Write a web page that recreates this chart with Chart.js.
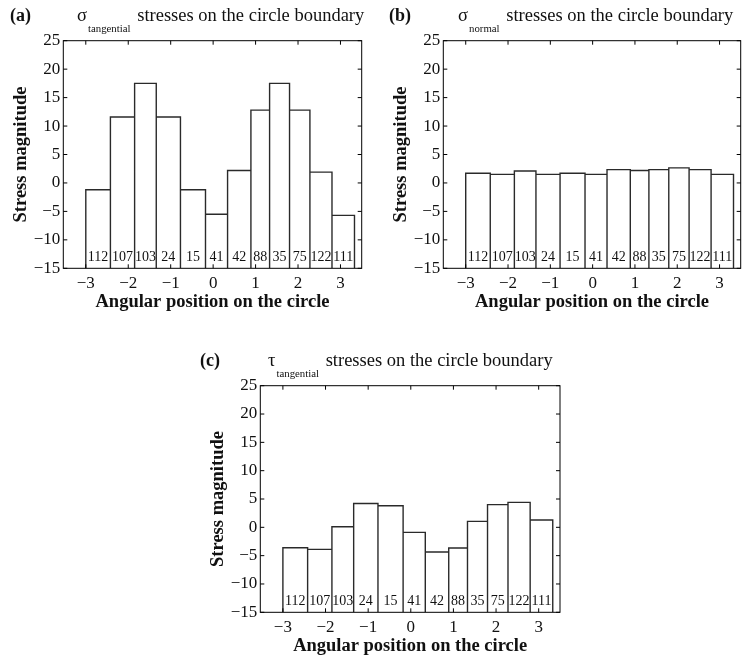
<!DOCTYPE html>
<html>
<head>
<meta charset="utf-8">
<script src="https://cdn.jsdelivr.net/npm/chart.js@4.4.1/dist/chart.umd.min.js"></script>
<style>
  html, body { margin: 0; padding: 0; background: #fff; }
  body { width: 743px; height: 659px; position: relative; overflow: hidden;
         font-family: "Liberation Serif", "Times New Roman", serif; color: #111; }
  canvas { position: absolute; }
  .tag { position: absolute; font-weight: bold; font-size: 18px; line-height: 18px; white-space: nowrap; }
  .ttl { position: absolute; font-size: 18.5px; line-height: 18px; white-space: nowrap; }
  .ttl sub { font-size: 10.8px; vertical-align: -11px; line-height: 0; margin-left: 1px; margin-right: 2px; }
</style>
</head>
<body>
<canvas id="panelA" width="372" height="320" style="left:0px;top:0px"></canvas>
<canvas id="panelB" width="363" height="320" style="left:380px;top:0px"></canvas>
<canvas id="panelC" width="370" height="319" style="left:197px;top:345px"></canvas>

<div class="tag" style="left:10px;top:6px">(a)</div>
<div class="ttl" style="left:77px;top:6px">σ<sub>tangential</sub> stresses on the circle boundary</div>
<div class="tag" style="left:389px;top:6px">(b)</div>
<div class="ttl" style="left:458px;top:6px">σ<sub>normal</sub> stresses on the circle boundary</div>
<div class="tag" style="left:200px;top:351px">(c)</div>
<div class="ttl" style="left:268px;top:351px">τ<sub>tangential</sub> stresses on the circle boundary</div>

<script>
// Bin edges along the boundary (angular position, radians)
const binEdges = [-3.0, -2.42, -1.85, -1.34, -0.77, -0.18, 0.34, 0.89, 1.33, 1.80, 2.28, 2.80, 3.33];
// Number of boundary elements in each bin
const binCounts = [112, 107, 103, 24, 15, 41, 42, 88, 35, 75, 122, 111];
// Mean stress per bin
const sigmaTangential = [-1.2, 11.6, 17.5, 11.6, -1.2, -5.5, 2.2, 12.8, 17.5, 12.8, 1.9, -5.7];
const sigmaNormal     = [1.7, 1.5, 2.1, 1.5, 1.7, 1.5, 2.35, 2.2, 2.35, 2.65, 2.35, 1.5];
const tauTangential   = [-3.6, -3.9, 0.1, 4.2, 3.8, -0.9, -4.35, -3.65, 1.05, 4.0, 4.4, 1.3];
// Axis tick values
const xTickValues = [-3, -2, -1, 0, 1, 2, 3];
const yTickValues = [-15, -10, -5, 0, 5, 10, 15, 20, 25];

const X_MIN = -3.53, X_MAX = 3.5;
const Y_MIN = -15, Y_MAX = 25;
const COUNT_Y = -13;
const SERIF = '"Liberation Serif", "Times New Roman", serif';
const INK = '#111';

const fmt = v => (v < 0 ? '\u2212' + Math.abs(v) : String(v));

// Box around the plot area with inward tick marks on all four sides
const framePlugin = {
  id: 'frame',
  afterDraw(chart) {
    const { ctx, chartArea: a, scales: { x, y } } = chart;
    const TL = 4;
    ctx.save();
    ctx.strokeStyle = '#000';
    ctx.lineWidth = 1;
    ctx.strokeRect(a.left, a.top, a.right - a.left, a.bottom - a.top);
    ctx.beginPath();
    x.ticks.forEach(t => {
      const px = x.getPixelForValue(t.value);
      ctx.moveTo(px, a.bottom); ctx.lineTo(px, a.bottom - TL);
      ctx.moveTo(px, a.top); ctx.lineTo(px, a.top + TL);
    });
    y.ticks.forEach(t => {
      const py = y.getPixelForValue(t.value);
      ctx.moveTo(a.left, py); ctx.lineTo(a.left + TL, py);
      ctx.moveTo(a.right, py); ctx.lineTo(a.right - TL, py);
    });
    ctx.stroke();
    ctx.restore();
  }
};

// Element count written inside each bin
const countPlugin = {
  id: 'counts',
  afterDatasetsDraw(chart) {
    const { ctx, scales: { x, y } } = chart;
    ctx.save();
    ctx.font = '14px ' + SERIF;
    ctx.fillStyle = INK;
    ctx.textAlign = 'center';
    ctx.textBaseline = 'middle';
    binCounts.forEach((c, i) => {
      const mid = (binEdges[i] + binEdges[i + 1]) / 2;
      ctx.fillText(String(c), x.getPixelForValue(mid), y.getPixelForValue(COUNT_Y));
    });
    ctx.restore();
  }
};

function binOutline(values) {
  const pts = [];
  values.forEach((v, i) => {
    pts.push({ x: binEdges[i], y: Y_MIN }, { x: binEdges[i], y: v },
             { x: binEdges[i + 1], y: v }, { x: binEdges[i + 1], y: Y_MIN });
  });
  return pts;
}

function makePanel(id, values, rightPad) {
  new Chart(document.getElementById(id), {
    type: 'scatter',
    data: {
      datasets: [{
        data: binOutline(values),
        showLine: true,
        pointRadius: 0,
        borderColor: '#2a2a2a',
        borderWidth: 1.4,
        fill: false,
        tension: 0
      }]
    },
    options: {
      responsive: false,
      animation: false,
      devicePixelRatio: 1,
      layout: { padding: { top: 40.7, right: rightPad, left: 0, bottom: 0 } },
      plugins: { legend: { display: false }, tooltip: { enabled: false } },
      scales: {
        x: {
          type: 'linear', min: X_MIN, max: X_MAX,
          afterBuildTicks: s => { s.ticks = xTickValues.map(v => ({ value: v })); },
          afterFit: s => { s.height = 51.7; },
          grid: { display: false, drawTicks: false },
          border: { display: false },
          ticks: { font: { family: SERIF, size: 17 }, color: INK, padding: 5,
                   maxRotation: 0, autoSkip: false, callback: fmt },
          title: { display: true, text: 'Angular position on the circle',
                   font: { family: SERIF, size: 18.5, weight: 'bold' }, color: INK,
                   padding: { top: 0, bottom: 7 } }
        },
        y: {
          type: 'linear', min: Y_MIN, max: Y_MAX,
          afterBuildTicks: s => { s.ticks = yTickValues.map(v => ({ value: v })); },
          afterFit: s => { s.width = 63.3; },
          grid: { display: false, drawTicks: false },
          border: { display: false },
          ticks: { font: { family: SERIF, size: 17 }, color: INK, padding: 3,
                   autoSkip: false, callback: fmt },
          title: { display: true, text: 'Stress magnitude',
                   font: { family: SERIF, size: 18.5, weight: 'bold' }, color: INK,
                   padding: { top: 10.5, bottom: 0 } }
        }
      }
    },
    plugins: [framePlugin, countPlugin]
  });
}

makePanel('panelA', sigmaTangential, 10.3);
makePanel('panelB', sigmaNormal, 2.3);
makePanel('panelC', tauTangential, 7);
</script>
</body>
</html>
